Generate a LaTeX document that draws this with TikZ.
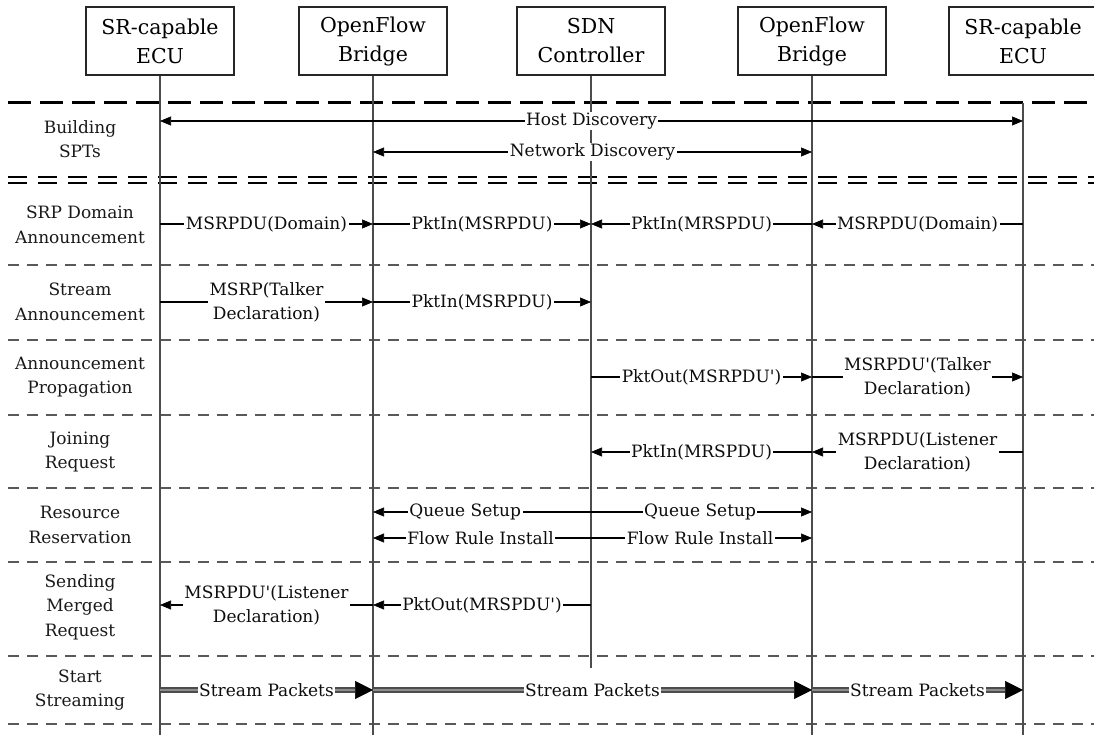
\documentclass[tikz,border=0pt]{standalone}
\usepackage{fontspec}
\setmainfont{DejaVu Serif}
\usetikzlibrary{arrows.meta}
\begin{document}
\begin{tikzpicture}[x=1pt,y=-1pt,
  hdr/.style={draw=black!85, line width=1.4pt, minimum width=148pt, minimum height=68pt,
    align=center, inner sep=0pt, font=\fontsize{20.5}{29}\selectfont},
  life/.style={draw=black!70, line width=1.5pt},
  septhin/.style={draw=black!65, line width=1.3pt, dash pattern=on 11pt off 8pt},
  sepbold/.style={draw=black, line width=3pt, dash pattern=on 23pt off 9pt},
  sepdbl/.style={draw=black, line width=2pt, dash pattern=on 19pt off 11pt},
  phase/.style={align=center, text=black!90, font=\fontsize{17}{24.5}\selectfont},
  tipA/.tip={Triangle[length=11pt,width=9pt,line width=0.6pt]},
  msg/.style={draw=black, line width=1.1pt, -tipA},
  bimsg/.style={draw=black, line width=1.1pt, tipA-tipA},
  lbl/.style={fill=white, inner xsep=1.5pt, inner ysep=0.5pt, align=center,
    text=black!95, font=\fontsize{17}{24}\selectfont},
  stream/.style={draw=black!70, line width=5.5pt,
    -{Triangle[length=18pt,width=18pt,line width=0.5pt,color=black]},
    postaction={draw=black!45, line width=2pt, shorten >=18pt, -}}
]
\useasboundingbox (0,0) rectangle (1094,735);

% participants
\node[hdr] (e1) at (160,41)  {SR-capable\\ECU};
\node[hdr] (b1) at (373,41)  {OpenFlow\\Bridge};
\node[hdr] (c)  at (591,41)  {SDN\\Controller};
\node[hdr] (b2) at (812,41)  {OpenFlow\\Bridge};
\node[hdr] (e2) at (1023,41) {SR-capable\\ECU};

% reference heights
\coordinate (ytop)  at (0,103);
\coordinate (yhost) at (0,121);
\coordinate (ynet)  at (0,152);
\coordinate (y1)    at (0,224);
\coordinate (y2)    at (0,302);
\coordinate (y3)    at (0,377);
\coordinate (y4)    at (0,452);
\coordinate (yq)    at (0,512);
\coordinate (yf)    at (0,538);
\coordinate (y6)    at (0,605);
\coordinate (y7)    at (0,690);
\coordinate (cend)  at (0,668);
\coordinate (ybot)  at (0,735);

% phase separators
\draw[sepbold] (8,103) -- (1094,103);
\draw[sepdbl] (8,177) -- (1094,177);
\draw[sepdbl] (8,183) -- (1094,183);
\foreach \yy in {265,340,415,488,562,656,724}
  \draw[septhin] (8,\yy) -- (1094,\yy);

% lifelines
\draw[life] (e1.south) -- (e1 |- ybot);
\draw[life] (b1.south) -- (b1 |- ybot);
\draw[life] (c.south)  -- (c |- cend);
\draw[life] (b2.south) -- (b2 |- ybot);
\draw[life] (e2 |- ytop) -- (e2 |- ybot);

% phase names
\node[phase] (p0) at (80,139) {Building\\SPTs};
\node[phase] (p1) at (80,225) {SRP Domain\\Announcement};
\node[phase] (p2) at (80,302) {Stream\\Announcement};
\node[phase] (p3) at (80,377) {Announcement\\Propagation};
\node[phase] (p4) at (80,452) {Joining\\Request};
\node[phase] (p5) at (80,525) {Resource\\Reservation};
\node[phase] (p6) at (80,607) {Sending\\Merged\\Request};
\node[phase] (p7) at (80,690) {Start\\Streaming};

% building SPTs
\draw[bimsg] (e1 |- yhost) -- node[lbl] {Host Discovery} (e2 |- yhost);
\draw[bimsg] (b1 |- ynet) -- node[lbl] {Network Discovery} (b2 |- ynet);

% SRP domain announcement
\draw[msg] (e1 |- y1) -- node[lbl] {MSRPDU(Domain)} (b1 |- y1);
\draw[msg] (b1 |- y1) -- node[lbl] {PktIn(MSRPDU)} (c |- y1);
\draw[msg] (b2 |- y1) -- node[lbl] {PktIn(MRSPDU)} (c |- y1);
\draw[msg] (e2 |- y1) -- node[lbl] {MSRPDU(Domain)} (b2 |- y1);

% stream announcement
\draw[msg] (e1 |- y2) -- node[lbl] {MSRP(Talker\\Declaration)} (b1 |- y2);
\draw[msg] (b1 |- y2) -- node[lbl] {PktIn(MSRPDU)} (c |- y2);

% announcement propagation
\draw[msg] (c |- y3) -- node[lbl] {PktOut(MSRPDU\textquotesingle)} (b2 |- y3);
\draw[msg] (b2 |- y3) -- node[lbl] {MSRPDU\textquotesingle(Talker\\Declaration)} (e2 |- y3);

% joining request
\draw[msg] (b2 |- y4) -- node[lbl] {PktIn(MRSPDU)} (c |- y4);
\draw[msg] (e2 |- y4) -- node[lbl] {MSRPDU(Listener\\Declaration)} (b2 |- y4);

% resource reservation
\draw[bimsg] (b1 |- yq) -- node[lbl,pos=0.21] {Queue Setup}
  node[lbl,pos=0.745] {Queue Setup} (b2 |- yq);
\draw[bimsg] (b1 |- yf) -- node[lbl,pos=0.245] {Flow Rule Install}
  node[lbl,pos=0.745] {Flow Rule Install} (b2 |- yf);

% sending merged request
\draw[msg] (c |- y6) -- node[lbl] {PktOut(MRSPDU\textquotesingle)} (b1 |- y6);
\draw[msg] (b1 |- y6) -- node[lbl] {MSRPDU\textquotesingle(Listener\\Declaration)} (e1 |- y6);

% start streaming
\draw[stream] (e1 |- y7) -- node[lbl] {Stream Packets} (b1 |- y7);
\draw[stream] (b1 |- y7) -- node[lbl] {Stream Packets} (b2 |- y7);
\draw[stream] (b2 |- y7) -- node[lbl] {Stream Packets} (e2 |- y7);
\end{tikzpicture}
\end{document}
